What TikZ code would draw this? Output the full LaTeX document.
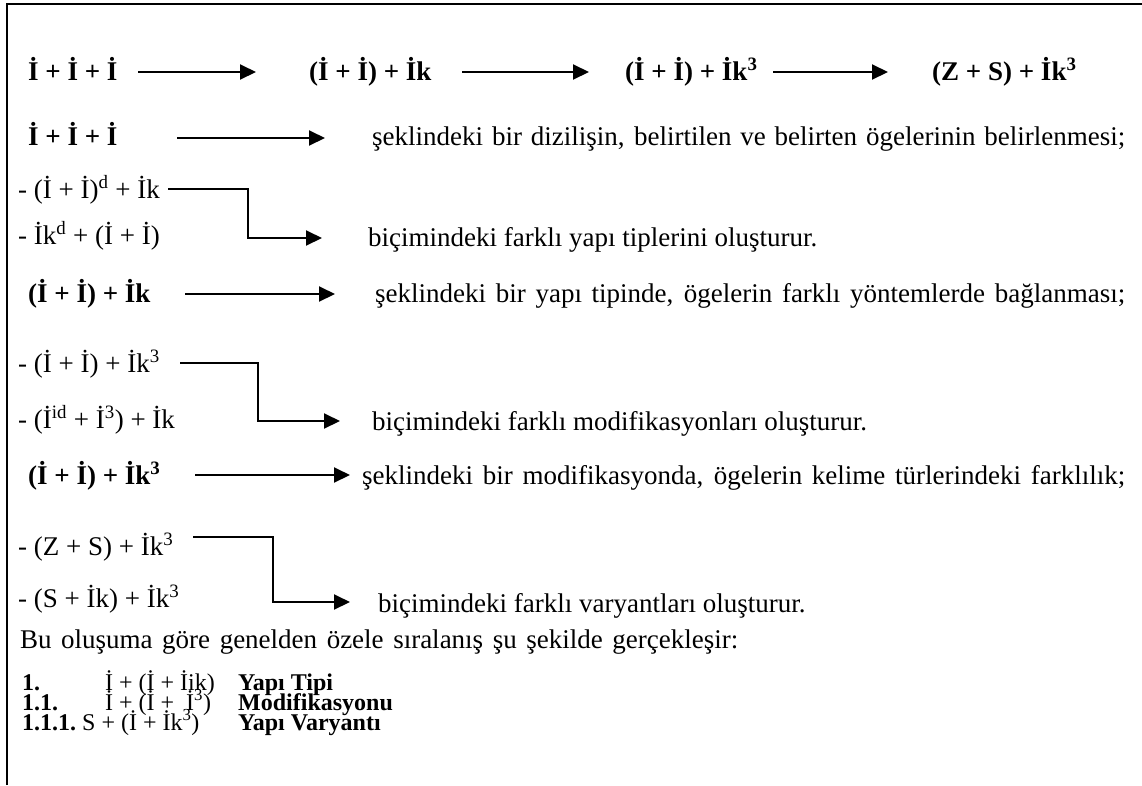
\documentclass[tikz,border=0pt]{standalone}
\usepackage{fontspec}
\setmainfont{Liberation Serif}
\usetikzlibrary{arrows.meta}
\newcommand\fsz{\fontsize{27}{30}\selectfont}
\newcommand\lsz{\fontsize{24}{26}\selectfont}
\begin{document}
\begin{tikzpicture}[x=1pt,y=-1pt,
  txt/.style={anchor=base west,inner sep=0pt,font=\fsz},
  btxt/.style={anchor=base west,inner sep=0pt,font=\fsz\bfseries},
  ltxt/.style={anchor=base west,inner sep=0pt,font=\lsz},
  lbtxt/.style={anchor=base west,inner sep=0pt,font=\lsz\bfseries},
  arr/.style={line width=2pt,-{Triangle[length=16pt,width=15pt]}},
  frame/.style={line width=2.5pt}]
\useasboundingbox (0,0) rectangle (1142,785);
\draw[frame] (7,785) -- (7,4) -- (1142,4);

% row 1
\node[btxt] (a1) at (28,80) {İ + İ + İ};
\node[btxt] (a2) at (309,80) {(İ + İ) + İk};
\node[btxt] (a3) at (625,80) {(İ + İ) + İk\textsuperscript{3}};
\node[btxt] (a4) at (932,80) {(Z + S) + İk\textsuperscript{3}};
\coordinate (a1s) at (138,72); \coordinate (a1e) at (256,72);
\coordinate (a2s) at (462,72); \coordinate (a2e) at (589,72);
\coordinate (a3s) at (773,72); \coordinate (a3e) at (888,72);
\draw[arr] (a1s) -- (a1e);
\draw[arr] (a2s) -- (a2e);
\draw[arr] (a3s) -- (a3e);

% row 2
\node[btxt] (b1) at (28,145) {İ + İ + İ};
\node[txt] (b2) at (372,145) {\makebox[753pt][s]{şeklindeki bir dizilişin, belirtilen ve belirten ögelerinin belirlenmesi;}};
\coordinate (b1s) at (177,138); \coordinate (b1e) at (325,138);
\draw[arr] (b1s) -- (b1e);

% row 3
\node[txt] (c1) at (18,198) {- (İ + İ)\textsuperscript{d} + İk};
\node[txt] (c2) at (18,244) {- İk\textsuperscript{d} + (İ + İ)};
\node[txt] (c3) at (368,246) {biçimindeki farklı yapı tiplerini oluşturur.};
\coordinate (c1s) at (168,189); \coordinate (c1k) at (248,189); \coordinate (c1e) at (322,238);
\draw[arr] (c1s) -- (c1k) |- (c1e);

% row 4
\node[btxt] (d1) at (28,302) {(İ + İ) + İk};
\node[txt] (d2) at (375,302) {\makebox[750pt][s]{şeklindeki bir yapı tipinde, ögelerin farklı yöntemlerde bağlanması;}};
\coordinate (d1s) at (185,294); \coordinate (d1e) at (335,294);
\draw[arr] (d1s) -- (d1e);

% row 5
\node[txt] (e1) at (18,372) {- (İ + İ) + İk\textsuperscript{3}};
\node[txt] (e2) at (18,428) {- (İ\textsuperscript{id} + İ\textsuperscript{3}) + İk};
\node[txt] (e3) at (372,430) {biçimindeki farklı modifikasyonları oluşturur.};
\coordinate (e1s) at (180,363); \coordinate (e1k) at (258,363); \coordinate (e1e) at (340,421);
\draw[arr] (e1s) -- (e1k) |- (e1e);

% row 6
\node[btxt] (f1) at (28,484) {(İ + İ) + İk\textsuperscript{3}};
\node[txt] (f2) at (362,484) {\makebox[763pt][s]{şeklindeki bir modifikasyonda, ögelerin kelime türlerindeki farklılık;}};
\coordinate (f1s) at (195,475); \coordinate (f1e) at (350,475);
\draw[arr] (f1s) -- (f1e);

% row 7
\node[txt] (g1) at (18,555) {- (Z + S) + İk\textsuperscript{3}};
\node[txt] (g2) at (18,607) {- (S + İk) + İk\textsuperscript{3}};
\node[txt] (g3) at (378,612) {biçimindeki farklı varyantları oluşturur.};
\coordinate (g1s) at (193,537); \coordinate (g1k) at (273,537); \coordinate (g1e) at (350,602);
\draw[arr] (g1s) -- (g1k) |- (g1e);

% row 8
\node[txt] (h1) at (20,648) {\makebox[718pt][s]{Bu oluşuma göre genelden özele sıralanış şu şekilde gerçekleşir:}};

% list
\node[lbtxt] (i1) at (22,690) {1.};
\node[ltxt]  (i2) at (105,690) {İ + (İ + İik)};
\node[lbtxt] (i3) at (238,690) {Yapı Tipi};
\node[lbtxt] (j1) at (22,710) {1.1.};
\node[ltxt]  (j2) at (105,710) {İ + (İ +\ \ İ\textsuperscript{3})};
\node[lbtxt] (j3) at (238,710) {Modifikasyonu};
\node[lbtxt] (k1) at (22,730) {1.1.1.};
\node[ltxt]  (k2) at (82,730) {S + (İ + İk\textsuperscript{3})};
\node[lbtxt] (k3) at (238,730) {Yapı Varyantı};
\end{tikzpicture}
\end{document}
